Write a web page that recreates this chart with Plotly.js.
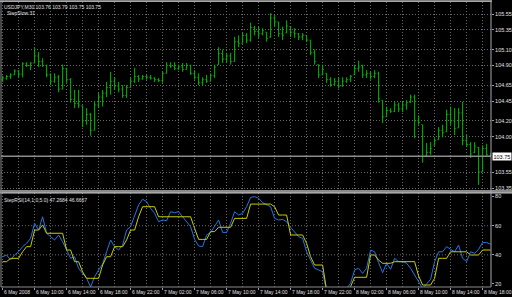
<!DOCTYPE html>
<html><head><meta charset="utf-8">
<script src="https://cdn.plot.ly/plotly-3.0.1.min.js"></script>
<style>html,body{margin:0;padding:0;background:#000;overflow:hidden}#chart{width:512px;height:297px}</style>
</head><body><div id="chart"></div>
<script>
// ---- data (USDJPY M30, 6-8 May 2008) ----
const times = [
'2008-05-06 06:00','2008-05-06 06:30','2008-05-06 07:00','2008-05-06 07:30','2008-05-06 08:00','2008-05-06 08:30','2008-05-06 09:00','2008-05-06 09:30',
'2008-05-06 10:00','2008-05-06 10:30','2008-05-06 11:00','2008-05-06 11:30','2008-05-06 12:00','2008-05-06 12:30','2008-05-06 13:00','2008-05-06 13:30',
'2008-05-06 14:00','2008-05-06 14:30','2008-05-06 15:00','2008-05-06 15:30','2008-05-06 16:00','2008-05-06 16:30','2008-05-06 17:00','2008-05-06 17:30',
'2008-05-06 18:00','2008-05-06 18:30','2008-05-06 19:00','2008-05-06 19:30','2008-05-06 20:00','2008-05-06 20:30','2008-05-06 21:00','2008-05-06 21:30',
'2008-05-06 22:00','2008-05-06 22:30','2008-05-06 23:00','2008-05-06 23:30','2008-05-07 00:00','2008-05-07 00:30','2008-05-07 01:00','2008-05-07 01:30',
'2008-05-07 02:00','2008-05-07 02:30','2008-05-07 03:00','2008-05-07 03:30','2008-05-07 04:00','2008-05-07 04:30','2008-05-07 05:00','2008-05-07 05:30',
'2008-05-07 06:00','2008-05-07 06:30','2008-05-07 07:00','2008-05-07 07:30','2008-05-07 08:00','2008-05-07 08:30','2008-05-07 09:00','2008-05-07 09:30',
'2008-05-07 10:00','2008-05-07 10:30','2008-05-07 11:00','2008-05-07 11:30','2008-05-07 12:00','2008-05-07 12:30','2008-05-07 13:00','2008-05-07 13:30',
'2008-05-07 14:00','2008-05-07 14:30','2008-05-07 15:00','2008-05-07 15:30','2008-05-07 16:00','2008-05-07 16:30','2008-05-07 17:00','2008-05-07 17:30',
'2008-05-07 18:00','2008-05-07 18:30','2008-05-07 19:00','2008-05-07 19:30','2008-05-07 20:00','2008-05-07 20:30','2008-05-07 21:00','2008-05-07 21:30',
'2008-05-07 22:00','2008-05-07 22:30','2008-05-07 23:00','2008-05-07 23:30','2008-05-08 00:00','2008-05-08 00:30','2008-05-08 01:00','2008-05-08 01:30',
'2008-05-08 02:00','2008-05-08 02:30','2008-05-08 03:00','2008-05-08 03:30','2008-05-08 04:00','2008-05-08 04:30','2008-05-08 05:00','2008-05-08 05:30',
'2008-05-08 06:00','2008-05-08 06:30','2008-05-08 07:00','2008-05-08 07:30','2008-05-08 08:00','2008-05-08 08:30','2008-05-08 09:00','2008-05-08 09:30',
'2008-05-08 10:00','2008-05-08 10:30','2008-05-08 11:00','2008-05-08 11:30','2008-05-08 12:00','2008-05-08 12:30','2008-05-08 13:00','2008-05-08 13:30',
'2008-05-08 14:00','2008-05-08 14:30','2008-05-08 15:00','2008-05-08 15:30','2008-05-08 16:00','2008-05-08 16:30','2008-05-08 17:00','2008-05-08 17:30',
'2008-05-08 18:00','2008-05-08 18:30','2008-05-08 19:00'];

const priceOpen = [
104.72,104.74,104.76,104.78,104.83,104.79,104.92,104.90,
104.93,105.02,104.95,104.90,104.78,104.70,104.75,104.60,
104.86,104.72,104.47,104.42,104.39,104.20,104.28,104.08,
104.40,104.50,104.55,104.62,104.70,104.64,104.60,104.52,
104.62,104.70,104.76,104.73,104.76,104.75,104.74,104.72,
104.71,104.80,104.90,104.89,104.86,104.88,104.85,104.90,
104.80,104.75,104.68,104.72,104.70,104.77,104.91,105.05,
104.98,105.02,104.95,105.20,105.18,105.28,105.22,105.38,
105.33,105.30,105.32,105.26,105.50,105.45,105.30,105.31,
105.39,105.32,105.30,105.26,105.28,105.22,105.06,104.91,
104.78,104.80,104.72,104.66,104.70,104.64,104.70,104.72,
104.78,104.86,104.88,104.78,104.80,104.76,104.80,104.46,
104.25,104.33,104.32,104.40,104.35,104.40,104.43,104.50,
104.20,104.15,103.76,103.80,103.89,103.96,104.08,104.06,
104.28,104.20,104.11,104.30,103.95,103.90,103.80,103.86,
103.56,103.85,103.76];
const priceHigh = [
104.77,104.78,104.80,104.85,104.84,104.94,104.94,104.94,
105.12,105.07,104.99,104.91,104.80,104.80,104.78,104.91,
104.87,104.74,104.59,104.59,104.39,104.36,104.30,104.44,
104.55,104.59,104.69,104.82,104.75,104.69,104.65,104.65,
104.74,104.87,104.78,104.78,104.78,104.78,104.75,104.74,
104.82,104.94,104.94,104.94,104.91,104.93,104.93,104.91,
104.84,104.80,104.75,104.78,104.80,104.91,105.13,105.10,
105.06,105.06,105.26,105.28,105.32,105.31,105.44,105.40,
105.39,105.37,105.32,105.56,105.54,105.45,105.39,105.47,
105.39,105.37,105.31,105.31,105.28,105.22,105.10,104.91,
104.91,104.80,104.75,104.74,104.75,104.75,104.75,104.78,
104.91,104.96,104.91,104.84,104.82,104.84,104.82,104.46,
104.38,104.36,104.44,104.43,104.44,104.46,104.53,104.53,
104.27,104.15,103.92,103.93,103.98,104.12,104.15,104.34,
104.38,104.36,104.36,104.44,104.02,103.93,103.93,103.87,
103.89,103.91,103.79];
const priceLow = [
104.69,104.72,104.73,104.78,104.75,104.75,104.88,104.84,
104.93,104.88,104.88,104.75,104.65,104.68,104.56,104.60,
104.68,104.43,104.36,104.36,104.12,104.15,104.01,104.08,
104.36,104.38,104.50,104.53,104.59,104.56,104.49,104.49,
104.62,104.68,104.69,104.72,104.72,104.72,104.69,104.69,
104.68,104.80,104.87,104.84,104.84,104.82,104.85,104.78,
104.72,104.65,104.65,104.68,104.70,104.74,104.91,104.93,
104.94,104.91,104.95,105.13,105.18,105.18,105.20,105.28,
105.25,105.28,105.20,105.25,105.39,105.26,105.22,105.31,
105.26,105.25,105.22,105.22,105.20,105.03,104.91,104.74,
104.78,104.68,104.63,104.65,104.61,104.63,104.68,104.69,
104.78,104.82,104.74,104.74,104.72,104.74,104.43,104.17,
104.25,104.30,104.31,104.31,104.31,104.34,104.43,103.98,
104.15,103.67,103.74,103.77,103.89,103.96,103.99,104.06,
104.15,104.02,104.11,103.89,103.87,103.73,103.79,103.39,
103.55,103.76,103.75];
const priceClose = [
104.74,104.76,104.78,104.83,104.79,104.92,104.90,104.93,
105.02,104.95,104.90,104.78,104.70,104.75,104.60,104.86,
104.72,104.47,104.42,104.40,104.20,104.28,104.08,104.40,
104.50,104.55,104.62,104.70,104.64,104.60,104.52,104.62,
104.70,104.76,104.73,104.76,104.75,104.74,104.72,104.71,
104.80,104.90,104.89,104.86,104.88,104.85,104.90,104.80,
104.75,104.68,104.72,104.70,104.77,104.88,105.05,104.98,
105.02,104.95,105.20,105.18,105.28,105.22,105.38,105.33,
105.30,105.34,105.24,105.50,105.45,105.30,105.28,105.40,
105.32,105.30,105.26,105.28,105.22,105.06,104.95,104.78,
104.85,104.72,104.66,104.70,104.64,104.70,104.72,104.76,
104.86,104.88,104.78,104.80,104.76,104.80,104.48,104.25,
104.33,104.32,104.40,104.35,104.40,104.43,104.50,104.20,
104.18,103.75,103.80,103.85,103.95,104.08,104.05,104.28,
104.20,104.10,104.30,103.95,103.90,103.78,103.88,103.55,
103.85,103.77,103.75];

const rsiLine = [
38.7,39.9,36.4,39.9,42.1,45.6,47.9,51.3,
61.6,57.0,66.1,54.8,52.4,50.2,53.6,49.0,
43.3,37.6,38.7,30.8,27.3,23.9,18.0,25.0,
29.6,33.7,42.1,50.2,45.6,43.3,46.7,57.0,
59.3,67.3,74.2,78.1,76.5,71.9,68.5,62.7,
63.9,63.4,69.6,68.9,69.6,66.1,62.7,59.3,
50.6,46.1,45.6,53.6,55.4,59.3,63.9,55.4,
55.4,61.6,69.6,67.3,68.5,73.0,79.4,79.9,
78.8,75.8,74.2,73.0,65.0,63.9,64.3,62.7,
58.9,55.4,52.4,51.3,42.1,36.4,30.8,29.6,
28.4,15.0,12.0,10.0,12.0,14.0,17.0,20.5,
29.6,30.8,27.3,30.8,43.3,42.1,34.6,27.8,
34.2,30.1,37.6,35.3,35.3,34.2,30.8,26.2,
21.6,17.0,20.0,23.2,35.3,42.1,42.1,45.6,
43.8,42.1,46.7,37.6,35.3,42.1,41.0,43.8,
48.4,48.4,47.27];
const stepLine = [
35.3,35.3,37.6,37.6,37.6,42.1,45.6,45.6,
57.0,57.0,60.5,54.8,54.8,54.8,54.8,54.8,
43.3,43.3,35.3,35.3,28.4,23.9,23.9,23.9,
23.9,33.0,38.7,38.7,45.6,45.6,45.6,50.2,
57.0,57.0,66.1,73.0,73.0,73.0,73.0,66.1,
66.1,66.1,66.1,66.1,66.1,66.1,66.1,66.1,
58.2,50.6,50.6,50.6,55.9,55.9,58.9,58.9,
58.9,58.9,65.0,65.0,65.0,65.0,74.8,74.8,
74.8,74.8,74.8,74.8,73.0,67.3,67.3,67.3,
53.6,53.6,53.6,53.6,47.9,38.7,33.0,33.0,
33.0,16.0,15.0,15.0,15.0,15.0,16.0,18.2,
24.6,24.6,24.6,24.6,39.9,39.9,36.4,34.2,
34.2,34.2,35.3,35.3,35.3,35.3,35.3,35.3,
25.5,19.3,19.3,19.3,23.9,37.6,37.6,37.6,
42.1,42.1,42.1,42.1,42.1,39.9,39.9,39.9,
43.3,43.3,43.3];

const xTickVals = ['2008-05-06 06:00','2008-05-06 10:00','2008-05-06 14:00','2008-05-06 18:00','2008-05-06 22:00',
'2008-05-07 02:00','2008-05-07 06:00','2008-05-07 10:00','2008-05-07 14:00','2008-05-07 18:00','2008-05-07 22:00',
'2008-05-08 02:00','2008-05-08 06:00','2008-05-08 10:00','2008-05-08 14:00','2008-05-08 18:00'];
const xTickText = ['6 May 2008','6 May 10:00','6 May 14:00','6 May 18:00','6 May 22:00',
'7 May 02:00','7 May 06:00','7 May 10:00','7 May 14:00','7 May 18:00','7 May 22:00',
'8 May 02:00','8 May 06:00','8 May 10:00','8 May 14:00','8 May 18:00'];
const priceTickVals = [105.55,105.35,105.10,104.90,104.65,104.45,104.20,104.00,103.55,103.35];
const priceTickText = ['105.55','105.35','105.10','104.90','104.65','104.45','104.20','104.00','103.55','103.35'];
const rsiTickVals = [80,60,40,20];
const rsiTickText = ['80','60','40','20'];
const rsiLevels = [60,40];
const lastPrice = 103.75;
const lastPriceText = '103.75';
const headerText = 'USDJPY,M30 103.76 103.79 103.75 103.75';
const subHeaderText = 'StepSlow 31';
const indicatorText = 'StepRSI(14,1.0,5.0) 47.2684 46.6667';

// ---- styling ----
const GRID = '#6a6a6a';
const DOT = '1px,2px';
const FRAME = '#a8a8a8';
const TXT = '#e0e0e0';
const mainDomain = [0.3404, 1];
const subDomain = [0, 0.3298];

const data = [
  {type:'ohlc', x:times, open:priceOpen, high:priceHigh, low:priceLow, close:priceClose,
   xaxis:'x', yaxis:'y', tickwidth:0.3,
   increasing:{line:{color:'#00b400', width:1}}, decreasing:{line:{color:'#00b400', width:1}},
   hoverinfo:'skip'},
  {type:'scatter', mode:'lines', x:times, y:rsiLine, xaxis:'x', yaxis:'y2',
   line:{color:'#1f78e0', width:1}, hoverinfo:'skip'},
  {type:'scatter', mode:'lines', x:times, y:stepLine, xaxis:'x', yaxis:'y2',
   line:{color:'#cccc00', width:1}, hoverinfo:'skip'}
];

const shapes = [
  {type:'line', xref:'paper', yref:'y', x0:0, x1:1, y0:lastPrice, y1:lastPrice, line:{color:'#8c8c8c', width:1.5}},
  ...rsiLevels.map(l => ({type:'line', xref:'paper', yref:'y2', x0:0, x1:1, y0:l, y1:l, line:{color:GRID, width:1, dash:DOT}})),
  {type:'rect', xref:'paper', yref:'paper', x0:-0.002, x1:1.043, y0:subDomain[1], y1:mainDomain[0], fillcolor:'#8a8a8a', line:{width:0}},
  {type:'line', xref:'paper', yref:'paper', x0:-0.002, x1:1.043, y0:subDomain[1], y1:subDomain[1], line:{color:'#c8c8c8', width:1}},
  {type:'rect', xref:'paper', yref:'paper', x0:-0.002, x1:1.002, y0:1, y1:1.006, fillcolor:FRAME, line:{width:0}},
  {type:'line', xref:'paper', yref:'paper', x0:0, x1:0, y0:0, y1:1, line:{color:'#8a8a8a', width:1}},
  {type:'line', xref:'paper', yref:'paper', x0:1, x1:1, y0:0, y1:1.006, line:{color:FRAME, width:1}},
  {type:'line', xref:'paper', yref:'paper', x0:0, x1:1, y0:0, y1:0, line:{color:'#8a8a8a', width:1}}
];

const annotations = [
  {xref:'paper', yref:'paper', x:0, y:1, xanchor:'left', yanchor:'top', xshift:2, yshift:-1, showarrow:false,
   text:headerText, font:{size:5, color:TXT}, borderpad:0},
  {xref:'paper', yref:'paper', x:0, y:1, xanchor:'left', yanchor:'top', xshift:5, yshift:-7, showarrow:false,
   text:subHeaderText, font:{size:5, color:TXT}, borderpad:0},
  {xref:'paper', yref:'paper', x:0, y:subDomain[1], xanchor:'left', yanchor:'top', xshift:2, yshift:-3, showarrow:false,
   text:indicatorText, font:{size:5, color:TXT}, borderpad:0},
  {xref:'paper', yref:'y', x:1, y:lastPrice, xanchor:'left', yanchor:'middle', xshift:1, showarrow:false,
   text:lastPriceText, font:{size:5.5, color:'#000'}, bgcolor:'#ffffff', borderpad:0.5},
  ...xTickVals.map((t, i) => ({xref:'x', yref:'paper', x:t, y:0, xanchor:'left', yanchor:'top', xshift:0, yshift:-1,
   showarrow:false, text:xTickText[i], font:{size:5, color:TXT}, borderpad:0}))
];

const layout = {
  width:512, height:297,
  paper_bgcolor:'#000', plot_bgcolor:'#000',
  margin:{l:1, r:21, t:2, b:10, pad:0},
  showlegend:false,
  font:{family:'Liberation Sans, Arial, sans-serif', size:5.5, color:TXT},
  xaxis:{type:'date', range:['2008-05-06 05:48','2008-05-08 19:03'], anchor:'y2',
    tickmode:'array', tickvals:xTickVals, showticklabels:false,
    ticks:'outside', ticklen:2, tickcolor:'#a0a0a0',
    showgrid:true, gridcolor:GRID, griddash:DOT, gridwidth:1,
    minor:{tick0:'2008-05-06 06:00', dtick:7200000, showgrid:true, gridcolor:GRID, griddash:DOT, gridwidth:1, ticks:''},
    rangeslider:{visible:false}, showline:false, zeroline:false, fixedrange:true},
  yaxis:{domain:mainDomain, range:[103.325,105.702], side:'right', anchor:'x',
    tickmode:'array', tickvals:priceTickVals, ticktext:priceTickText, tickfont:{size:5.5, color:TXT},
    ticks:'outside', ticklen:2, tickcolor:'#a0a0a0', ticklabelstandoff:0,
    showgrid:true, gridcolor:GRID, griddash:DOT, gridwidth:1, zeroline:false, showline:false, fixedrange:true},
  yaxis2:{domain:subDomain, range:[17.94,82.4], side:'right', anchor:'x',
    tickmode:'array', tickvals:rsiTickVals, ticktext:rsiTickText, tickfont:{size:5.5, color:TXT},
    ticks:'outside', ticklen:2, tickcolor:'#a0a0a0', ticklabelstandoff:0,
    showgrid:false, zeroline:false, showline:false, fixedrange:true},
  shapes:shapes,
  annotations:annotations
};

Plotly.newPlot('chart', data, layout, {staticPlot:true, displayModeBar:false});
</script></body></html>
